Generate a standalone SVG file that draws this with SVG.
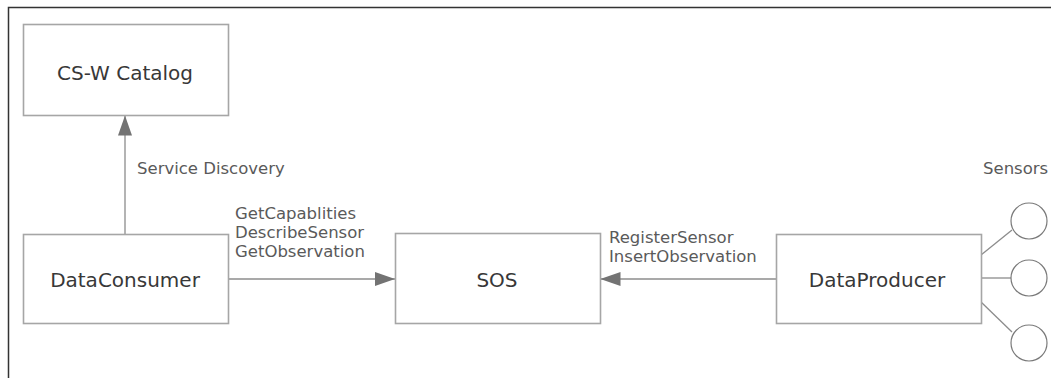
<svg xmlns="http://www.w3.org/2000/svg" width="1051" height="378" viewBox="0 0 1051 378">
<defs>
<style>
.box{fill:#fff;stroke:#a6a6a6;stroke-width:1.6}
.ln{fill:none;stroke:#8c8c8c;stroke-width:1.3}
.sens{fill:#fff;stroke:#7a7a7a;stroke-width:1.2}
.nt{font-family:"DejaVu Sans",Verdana,sans-serif;font-size:20px;fill:#383838;text-anchor:middle}
.lb{font-family:"DejaVu Sans",Verdana,sans-serif;font-size:16.5px;fill:#5a5a5a}
</style>
<marker id="ah" viewBox="0 0 20 14" refX="20" refY="7" markerWidth="20" markerHeight="14" markerUnits="userSpaceOnUse" orient="auto">
<path d="M0,0 L20,7 L0,14 Z" fill="#737373"/>
</marker>
</defs>
<rect width="1051" height="378" fill="#fff"/>
<path d="M8.5,378 V7.5 H1051" fill="none" stroke="#333" stroke-width="1.5"/>
<g id="connectors">
<line class="ln" x1="125" y1="234" x2="125" y2="115.5" marker-end="url(#ah)"/>
<line class="ln" x1="228" y1="279" x2="395" y2="279" marker-end="url(#ah)"/>
<line class="ln" x1="776" y1="279" x2="600.5" y2="279" marker-end="url(#ah)"/>
<line class="ln" x1="981" y1="255" x2="1012" y2="230"/>
<line class="ln" x1="981" y1="278" x2="1011" y2="278"/>
<line class="ln" x1="981" y1="302" x2="1012" y2="332"/>
<text class="lb" x="137" y="174">Service Discovery</text>
<text class="lb" x="235" y="219">GetCapablities</text>
<text class="lb" x="235" y="238">DescribeSensor</text>
<text class="lb" x="235" y="257">GetObservation</text>
<text class="lb" x="609" y="243">RegisterSensor</text>
<text class="lb" x="609" y="262">InsertObservation</text>
</g>
<g id="catalog">
<rect class="box" x="23.5" y="24.5" width="205" height="91"/>
<text class="nt" x="125" y="80">CS-W Catalog</text>
</g>
<g id="consumer">
<rect class="box" x="23.5" y="234.5" width="205" height="89"/>
<text class="nt" x="125" y="287">DataConsumer</text>
</g>
<g id="sos">
<rect class="box" x="395.5" y="233.5" width="205" height="90"/>
<text class="nt" x="497" y="287">SOS</text>
</g>
<g id="producer">
<rect class="box" x="776.5" y="234.5" width="205" height="89"/>
<text class="nt" x="877" y="287">DataProducer</text>
</g>
<g id="sensors">
<text class="lb" x="983" y="174">Sensors</text>
<circle class="sens" cx="1029" cy="221" r="18"/>
<circle class="sens" cx="1029" cy="278" r="18"/>
<circle class="sens" cx="1029" cy="343" r="18"/>
</g>
</svg>
